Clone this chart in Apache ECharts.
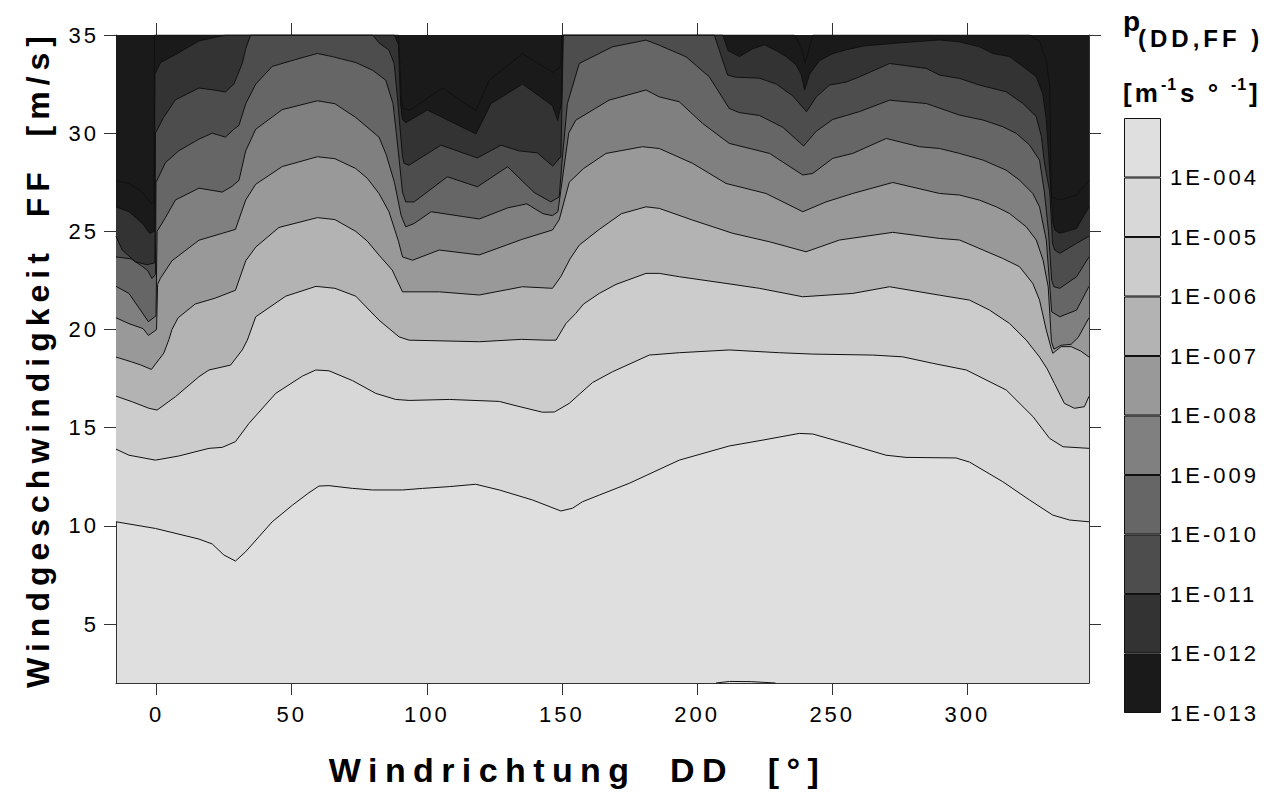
<!DOCTYPE html>
<html>
<head>
<meta charset="utf-8">
<script src="https://cdn.jsdelivr.net/npm/echarts@6/dist/echarts.min.js"></script>
<style>
html, body { margin: 0; padding: 0; background: #fff; }
#chart { width: 1278px; height: 800px; }
#chart text { letter-spacing: 3px; }
</style>
</head>
<body>
<div id="chart"></div>
<script>
// Axis tick values
const ddTicks = [0, 50, 100, 150, 200, 250, 300];
const ffTicks = [5, 10, 15, 20, 25, 30, 35];

// Contour levels (density p in m^-1 s °^-1), lightest first
const levelLabels = ['1E-004', '1E-005', '1E-006', '1E-007', '1E-008',
                     '1E-009', '1E-010', '1E-011', '1E-012', '1E-013'];

// Isolines: [DD in degrees, FF in m/s]
const iso1e4 = [[-15,10.21],[-0.4,9.87],[15.7,9.33],[20.6,9.08],[24.9,8.52],[29.2,8.21],[33,8.69],[37.9,9.45],[42.8,10.21],[50.3,11.06],[56.4,11.69],[60.1,12.03],[63.8,12.05],[72.5,11.91],[79.9,11.83],[91,11.83],[98.4,11.91],[108.3,12.0],[118.1,12.12],[126.8,11.83],[139.1,11.32],[149.6,10.76],[153.9,10.9],[157.6,11.23],[163.8,11.57],[174.9,12.17],[193.4,13.35],[211.9,14.07],[225.5,14.4],[237.8,14.71],[242.8,14.68],[255.1,14.2],[269.9,13.6],[277.3,13.49],[295.8,13.46],[300.8,13.25],[313.1,12.25],[323,11.32],[331.6,10.55],[337.8,10.3],[345,10.21]];
const iso1e4Edge = [[207,2.0],[212,2.08],[220,2.07],[229,2.0]];
const iso1e5 = [[-15,13.91],[-10.2,13.6],[-0.4,13.35],[8.2,13.56],[19.4,13.95],[24.3,14.0],[29.2,14.29],[34.2,15.22],[44.1,16.75],[54,17.63],[58.9,17.94],[63.8,17.9],[72.5,17.4],[81.1,16.75],[88.5,16.44],[93.5,16.39],[108.3,16.44],[126.8,16.34],[133,16.12],[142.8,15.79],[147.2,15.8],[152.7,16.24],[156.4,16.7],[161.3,17.3],[168.7,17.85],[182.3,18.7],[193.4,18.82],[211.9,18.96],[230.4,18.82],[242.8,18.75],[265,18.7],[276.1,18.61],[287.2,18.28],[299.6,17.94],[314.4,16.92],[324.3,15.56],[330.4,14.46],[335.4,14.03],[345,13.95]];
const iso1e6 = [[-15,16.61],[-9,16.32],[-2.8,15.99],[0.2,15.9],[7,16.58],[15.7,17.6],[19.4,17.94],[27.4,18.19],[31.7,18.96],[33.6,19.46],[36.7,20.65],[47.8,21.7],[59,22.2],[66,22.1],[73.7,21.7],[82.3,20.48],[89.7,19.63],[93.4,19.46],[119.4,19.38],[135,19.5],[144.1,19.46],[147.8,19.46],[151.5,20.31],[155.1,20.82],[158,21.3],[163.8,21.84],[170,22.3],[181.1,22.86],[186,22.86],[193.4,22.69],[210.7,22.35],[223,22.1],[239.1,21.67],[257.6,21.84],[271.2,22.18],[289.7,21.75],[300.8,21.5],[308.2,20.99],[315.6,20.31],[321.8,19.46],[326.7,18.6],[329.5,18.0],[332.2,17.26],[335.9,16.24],[339.6,15.99],[343.3,16.07],[345,16.6]];
const iso1e7 = [[-15,18.6],[-9.4,18.36],[-5.9,18.2],[-1.9,17.97],[2.7,18.8],[4.6,19.5],[5.7,20.0],[8,20.6],[14.3,21.3],[21.7,21.6],[29.2,22.0],[33,23.5],[36.7,24.2],[45.3,25.2],[59.5,25.7],[66,25.6],[73.7,25.0],[78,24.5],[82.3,23.79],[87.2,23.03],[91,21.92],[104.6,21.92],[119.4,21.76],[135.4,22.18],[146.5,22.1],[149.6,22.7],[153,23.6],[156.4,24.3],[163.8,25.1],[172,25.9],[181.1,26.25],[186,26.17],[198.4,25.57],[213.2,24.9],[226.8,24.47],[240.3,23.96],[252.7,24.56],[272.4,24.95],[289.7,24.64],[297.1,24.56],[305.8,24.05],[313.1,23.62],[319.3,23.2],[324.2,22.35],[326.7,21.5],[329.2,19.97],[331.1,19.0],[331.6,18.79],[334.7,19.13],[338.4,19.13],[342,18.9],[345,18.6]];
const iso1e8 = [[-15,20.6],[-10.2,20.3],[-5,20.05],[-3,19.7],[0.0,20.0],[0.4,22.3],[1.4,22.6],[5.7,23.5],[15.7,24.55],[24.3,24.9],[29.2,25.1],[33,26.6],[36.7,27.4],[46.5,28.3],[59.5,28.8],[66,28.7],[73.7,28.2],[78,27.7],[82.3,26.93],[86,26.0],[89.5,24.5],[91,23.7],[94.7,23.53],[104.6,24.05],[119.4,23.8],[135.4,24.6],[146.5,25.07],[149,25.6],[152.7,27.5],[158,28.2],[166.3,28.97],[179.8,29.31],[186,29.22],[198.4,28.46],[210.7,27.44],[225.5,26.93],[239.1,26.0],[247.7,26.5],[257.6,26.93],[272.4,27.49],[289.7,26.93],[297.1,26.85],[304.5,26.59],[310.7,26.25],[315.6,25.91],[321.8,25.23],[325.5,24.56],[328,23.54],[329.9,22.18],[331.1,19.4],[332,19.0],[334.7,19.2],[338.4,19.25],[341,19.6],[345,20.6]];
const iso1e9 = [[-15,22.2],[-10.2,21.84],[-6,21.0],[-3,20.4],[-0.2,20.7],[0.2,25.0],[3.3,25.7],[7,26.6],[15.7,27.2],[24.3,27.0],[28,27.3],[30.5,27.6],[33,29.1],[36.7,30.2],[46.5,31.2],[59.5,31.65],[66,31.5],[73.7,30.8],[82.3,29.8],[85,28.9],[88,27.5],[90.5,25.8],[92.2,25.23],[95.3,25.4],[101.6,26.0],[119.4,25.63],[130,26.2],[137,26.4],[143,25.9],[146.5,25.8],[148.5,26.0],[150.5,28.0],[152.5,30.0],[155.1,30.66],[167.4,31.68],[181.1,32.2],[186,31.85],[193.4,31.6],[202,30.5],[211.9,29.48],[226.8,28.97],[239.1,27.87],[242.8,27.95],[250.2,28.72],[257.6,28.97],[270,29.73],[282.3,29.31],[289.7,29.22],[297.1,28.97],[305.8,28.63],[314.3,28.12],[319.3,27.61],[324.2,26.93],[326.7,26.25],[329.2,24.56],[330.6,22.0],[331.2,20.9],[334.2,20.65],[340.4,20.99],[345,22.2]];
const iso1e10 = [[-15,23.7],[-9.4,23.6],[-5.1,23.2],[-3.3,23.0],[-1.7,22.6],[-0.4,22.8],[-0.2,27.5],[3.3,28.5],[8.2,29.1],[15.7,29.7],[20.6,30.0],[25.5,29.8],[28.6,30.2],[30.5,30.4],[33,31.5],[36.7,32.5],[42.8,33.4],[52.7,33.8],[59.5,34.06],[65,33.9],[73.7,33.6],[80,33.2],[84.8,32.7],[87.5,31.5],[89.5,29.0],[91,27.0],[92.2,26.5],[95.3,26.5],[107.6,27.78],[118.7,27.27],[129.9,28.29],[139.7,26.98],[145.9,26.5],[149,26.76],[150,28.5],[152,31.5],[156.4,33.55],[168.7,34.4],[181.1,34.74],[186,34.48],[195.9,33.89],[204.5,32.87],[211.9,31.26],[215.6,31.05],[223.1,30.9],[231.7,30.3],[239.4,29.35],[244.1,30.1],[250.2,30.7],[260.1,31.1],[271.2,31.68],[284.8,31.51],[297.1,30.92],[305.8,30.67],[313.1,30.33],[318.1,29.99],[323,29.4],[326.7,28.63],[328.5,27.0],[330,25.0],[331.2,22.5],[332,22.18],[334.2,22.1],[340.4,22.69],[345,23.7]];
const iso1e11 = [[-15,24.75],[-12.7,24.05],[-7.8,23.45],[-3.5,23.3],[-0.6,23.4],[-0.4,30.0],[2.6,30.8],[7,31.7],[15.7,32.3],[21.2,32.2],[25.5,32.1],[28.6,32.5],[31.7,33.55],[33,34.3],[34.8,35],[80,35],[82.3,34.6],[86,34.23],[87.9,33.55],[89.1,31.85],[91,28.8],[91.6,28.46],[93.4,28.37],[105.2,29.39],[118.7,28.74],[127.5,29.39],[134,29.1],[140.9,29.0],[146.6,28.32],[149.6,28.8],[150.5,35],[206.4,35],[208.2,34.23],[211.3,32.96],[214.4,32.85],[223.1,32.8],[229.3,32.5],[235.4,31.9],[240.5,31.09],[244.1,31.85],[249,32.45],[255.1,32.6],[260.1,32.87],[271.2,33.55],[284.8,33.3],[289.7,32.96],[297.1,32.79],[304.5,32.45],[314.3,32.11],[320.5,31.52],[325.5,30.84],[327.4,29.82],[328.5,28.5],[330.5,27.0],[331.5,24.4],[332.3,24.05],[334.2,23.88],[340.4,24.39],[345,24.75]];
const iso1e12 = [[-15,26.25],[-10.2,26.0],[-5.2,25.4],[-2.6,24.9],[-0.8,25.0],[-0.6,33.0],[1.5,33.6],[7,34.0],[15.7,34.7],[25.5,35],[88,35],[89.5,34.5],[90.3,31.5],[91,30.7],[92.2,30.53],[100.2,31.18],[118.2,29.96],[123.7,31.5],[135.4,32.5],[146.5,31.4],[148.4,30.65],[149.8,31.5],[150.3,35],[209.5,35],[211.5,34.2],[215.7,33.9],[220.6,34.3],[224.9,34.5],[229.3,34.2],[233,33.9],[236.5,33.5],[238.5,33.0],[239.8,32.2],[241.6,33.0],[245.3,33.7],[250.2,34.05],[255.2,34.25],[262,34.45],[275,34.6],[289.7,34.75],[297.1,34.65],[304.5,34.4],[309.4,34.06],[315.6,33.9],[320.5,33.4],[325.5,32.87],[327.9,32.0],[329.2,30.7],[330.5,28.0],[331.6,25.5],[332.3,25.07],[334.2,24.9],[340.4,25.15],[345,26.25]];
const iso1e13 = [[-15,27.6],[-10.2,27.44],[-6.1,27.1],[-1.8,26.4],[-1.0,26.5],[-0.8,35],[89.5,35],[90.5,32.0],[91,31.26],[93.8,31.18],[105.8,32.3],[118.2,31.15],[123.1,32.7],[135.4,34.05],[146.5,33.1],[149.6,33.4],[150.0,35],[236,35],[238.5,34.4],[240,33.55],[241.6,34.4],[242.8,35],[323.1,35],[326.8,34.65],[329.2,33.7],[330.5,32.4],[330.9,28.0],[331.1,26.76],[334.2,26.6],[340.4,26.85],[345,27.6]];

const isoLines = [iso1e4, iso1e5, iso1e6, iso1e7, iso1e8, iso1e9, iso1e10, iso1e11, iso1e12, iso1e13];

// Grey shades: region above each isoline, and the background (> 1E-004)
const aboveFill = ['#d8d8d8', '#cccccc', '#b3b3b3', '#999999', '#808080',
                   '#666666', '#4d4d4d', '#333333', '#1a1a1a', '#1a1a1a'];
const baseFill = '#dfdfdf';
// Colour bar, bottom (1E-013) to top (> 1E-004)
const barShades = ['#1a1a1a', '#333333', '#4d4d4d', '#666666', '#808080',
                   '#999999', '#b3b3b3', '#cccccc', '#d8d8d8', '#dfdfdf'];

const FONT = 'Liberation Sans';
const tickColor = '#333';

// letter spacing (px) per font size used on the page
const spacingBySize = { 22: 3, 32: 6, 34: 7.4, 28: 0, 24: 4, 26: 3, 16: 1 };

const chart = echarts.init(document.getElementById('chart'), null, { renderer: 'svg' });

const series = [];
// filled bands: each isoline paints everything above it up to the top of the axis
isoLines.forEach((d, i) => {
  series.push({
    type: 'line', xAxisIndex: 0, yAxisIndex: 0, data: d,
    showSymbol: false, silent: true, z: 2,
    lineStyle: { width: 0, opacity: 0 },
    areaStyle: { color: aboveFill[i], opacity: 1, origin: 'end' }
  });
});
// isoline outlines on top
isoLines.concat([iso1e4Edge]).forEach(d => {
  series.push({
    type: 'line', xAxisIndex: 0, yAxisIndex: 0, data: d,
    showSymbol: false, silent: true, z: 3,
    lineStyle: { color: '#111', width: 1 }
  });
});
// colour bar: one stacked block per level interval
barShades.forEach((c, i) => {
  series.push({
    type: 'bar', xAxisIndex: 2, yAxisIndex: 2, stack: 'bar',
    data: [1], barWidth: '100%', silent: true,
    itemStyle: { color: c, borderColor: '#111', borderWidth: 1 }
  });
});

const tickLabelStyle = { fontFamily: FONT, fontSize: 22, color: '#000' };

// colour-bar heading pieces: text, x, y(top), size
const headPieces = [
  ['p', 1123, 7, 28],
  ['(DD,FF )', 1138, 26, 24],
  ['[m', 1123, 80, 26],
  ['-1', 1161, 76, 16],
  ['s ° ', 1180, 80, 26],
  ['-1', 1231, 76, 16],
  [']', 1249, 80, 26]
];

chart.setOption({
  animation: false,
  backgroundColor: '#fff',
  grid: [
    { left: 116, top: 35, width: 973, height: 648, show: true,
      backgroundColor: baseFill, borderWidth: 0 },
    { left: 1124, top: 118, width: 37, height: 595 }
  ],
  xAxis: [
    { type: 'value', gridIndex: 0, min: -15, max: 345, position: 'bottom',
      axisLine: { show: true, onZero: false, lineStyle: { color: tickColor, width: 1 } },
      axisTick: { show: true, length: 12, customValues: ddTicks, lineStyle: { color: tickColor } },
      axisLabel: Object.assign({ customValues: ddTicks, margin: 20 }, tickLabelStyle),
      splitLine: { show: false },
      name: 'Windrichtung \u00a0DD \u00a0[°]', nameLocation: 'middle', nameGap: 70,
      nameTextStyle: { fontFamily: FONT, fontSize: 34, fontWeight: 'bold', color: '#000',
                       padding: [0, 50, 0, 0] } },
    { type: 'value', gridIndex: 0, min: -15, max: 345, position: 'top',
      axisLine: { show: true, onZero: false, lineStyle: { color: tickColor, width: 1 } },
      axisTick: { show: true, length: 12, customValues: ddTicks, lineStyle: { color: tickColor } },
      axisLabel: { show: false }, splitLine: { show: false } },
    { type: 'category', gridIndex: 1, data: ['p'], show: false }
  ],
  yAxis: [
    { type: 'value', gridIndex: 0, min: 2, max: 35, position: 'left',
      axisLine: { show: true, onZero: false, lineStyle: { color: tickColor, width: 1 } },
      axisTick: { show: true, length: 12, customValues: ffTicks, lineStyle: { color: tickColor } },
      axisLabel: Object.assign({ customValues: ffTicks, margin: 17 }, tickLabelStyle),
      splitLine: { show: false },
      name: 'Windgeschwindigkeit \u00a0FF \u00a0[m/s]', nameLocation: 'middle', nameGap: 62,
      nameRotate: 90,
      nameTextStyle: { fontFamily: FONT, fontSize: 32, fontWeight: 'bold', color: '#000' } },
    { type: 'value', gridIndex: 0, min: 2, max: 35, position: 'right',
      axisLine: { show: true, onZero: false, lineStyle: { color: tickColor, width: 1 } },
      axisTick: { show: true, length: 12, customValues: ffTicks, lineStyle: { color: tickColor } },
      axisLabel: { show: false }, splitLine: { show: false } },
    { type: 'value', gridIndex: 1, min: 0, max: 10, interval: 1, position: 'right',
      axisLine: { show: false }, axisTick: { show: false }, splitLine: { show: false },
      axisLabel: Object.assign({
        margin: 9,
        formatter: v => (v < 10 ? levelLabels[9 - v] : '')
      }, tickLabelStyle) }
  ],
  graphic: headPieces.map(([t, x, y, s]) => ({
    type: 'text', x: x, y: y, silent: true,
    style: { text: t, fill: '#000', fontFamily: FONT, fontSize: s, fontWeight: 'bold',
             verticalAlign: 'top', align: 'left' }
  })),
  series: series
});

function applySpacing() {
  document.querySelectorAll('#chart svg text').forEach(t => {
    const fs = Math.round(parseFloat(getComputedStyle(t).fontSize));
    if (fs in spacingBySize) t.style.letterSpacing = spacingBySize[fs] + 'px';
  });
}
chart.on('finished', applySpacing);
applySpacing();
setTimeout(applySpacing, 30);
</script>
</body>
</html>
